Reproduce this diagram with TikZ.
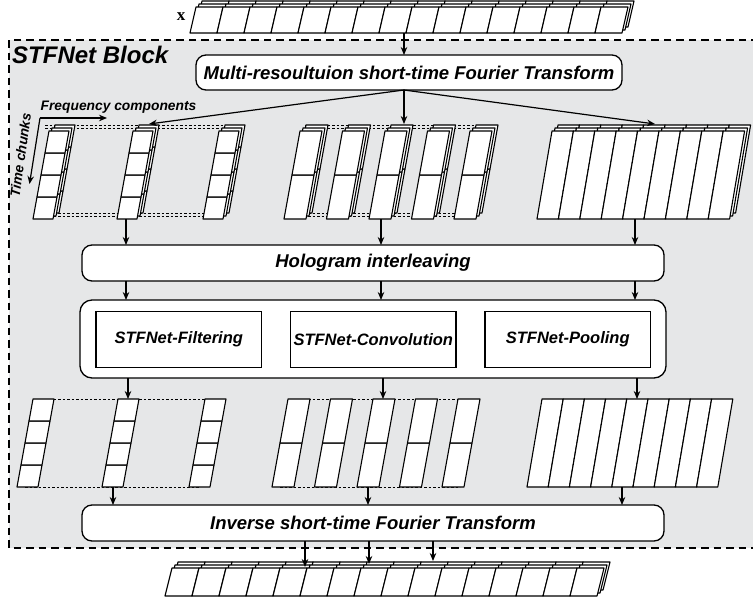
\documentclass[tikz,border=0pt]{standalone}
\usepackage{fontspec}
\setmainfont{Liberation Sans}
\newfontfamily\serifx{Liberation Serif}
\usetikzlibrary{arrows.meta}
\definecolor{bg}{RGB}{230,231,232}
% #1 X (bottom-left), #2 Y (bottom), #3 cell width, #4 cell height, #5 slant per row, #6 nx, #7 ny, #8 style
\newcommand{\cellgrid}[8]{%
  \foreach \ii in {1,...,#6}{%
    \foreach \jj in {1,...,#7}{%
      \draw[#8] ({#1+(\ii-1)*#3+(\jj-1)*#5},{#2-(\jj-1)*#4}) -- ++(#3,0) -- ++(#5,-#4) -- ++(-#3,0) -- cycle;
    }}}
% same plus #8 back layers, #9 layer offset
\newcommand{\layered}[9]{%
  \foreach \kk in {#8,...,0}{\cellgrid{#1+\kk*#9}{#2-\kk*#9}{#3}{#4}{#5}{#6}{#7}{cell}}}
\begin{document}
\begin{tikzpicture}[x=1pt,y=-1pt,
  cell/.style={draw=black,fill=white,line width=1.1pt,line join=round},
  rbox/.style={draw=black,fill=white,line width=1.3pt,rounded corners=10pt,inner sep=0pt,outer sep=0pt,font=\fontsize{18.5}{20}\selectfont\bfseries\itshape},
  ibox/.style={draw=black,fill=white,line width=1.1pt,inner sep=0pt,outer sep=0pt,minimum width=165.5pt,minimum height=56pt,font=\fontsize{16.5}{19}\selectfont\bfseries\itshape},
  arr/.style={line width=1.2pt,-{Stealth[length=8pt,width=6.5pt]}},
  dsh/.style={line width=0.9pt,dash pattern=on 2.5pt off 2pt},
  framebox/.style={fill=bg,draw=black,line width=2.6pt,dash pattern=on 7.5pt off 5pt}]
\useasboundingbox (0,0) rectangle (753,600);

% block frame
\draw[framebox] (9,40) rectangle (757,548);
\node[anchor=base west,font=\fontsize{24}{26}\selectfont\bfseries\itshape,inner sep=0pt] (blocklbl) at (12,63) {STFNet Block};

% input tensor x
\layered{190}{33}{27}{26}{6}{16}{1}{2}{3}
\node[font=\serifx\fontsize{17}{19}\selectfont\bfseries,inner sep=0pt] (xlbl) at (181,17) {x};
\coordinate (xbot) at (404,33);

% boxes
\node[rbox,minimum width=426pt,minimum height=35pt] (mstft) at (409,72.5) {Multi-resoultuion short-time Fourier Transform};
\node[rbox,minimum width=582pt,minimum height=36pt] (holo) at (373,263) {Hologram interleaving};
\node[rbox,rounded corners=12pt,minimum width=586pt,minimum height=78pt] (big) at (373,339) {};
\node[ibox] (filt) at (178.75,339.5) {STFNet-Filtering};
\node[ibox] (conv) at (373.25,339.5) {STFNet-Convolution};
\node[ibox] (pool) at (567.75,339.5) {STFNet-Pooling};
\node[rbox,minimum width=582pt,minimum height=36pt] (inv) at (373,523) {Inverse short-time Fourier Transform};

% axis labels
\node[anchor=base west,font=\fontsize{13.8}{15}\selectfont\bfseries\itshape,inner sep=0pt] (freqlbl) at (40.5,110.5) {Frequency components};
\node[rotate=82,font=\fontsize{13.8}{15}\selectfont\bfseries\itshape,inner sep=0pt] (timelbl) at (20.5,155) {Time chunks};
\coordinate (fcorner) at (40,118);
\coordinate (ftip) at (107,118);
\coordinate (ttip) at (29.5,184);
\draw[arr] (fcorner) -- (ftip);
\draw[arr] (fcorner) -- (ttip);

% upper left group
\draw[dsh] (45,125) -- (230,125);
\draw[dsh] (45,128) -- (230,128);
\draw[dsh] (40,213) -- (215,213);
\draw[dsh] (40,216) -- (215,216);
\layered{33}{219}{20}{22}{4}{1}{4}{2}{3}
\layered{117}{219}{20}{22}{4}{1}{4}{2}{3}
\layered{203}{219}{20}{22}{4}{1}{4}{2}{3}
% upper middle group
\draw[dsh] (305,125) -- (490,125);
\draw[dsh] (305,128) -- (490,128);
\draw[dsh] (290,213) -- (470,213);
\draw[dsh] (290,216) -- (470,216);
\layered{284}{219}{22}{44}{8}{1}{2}{2}{3}
\layered{326.5}{219}{22}{44}{8}{1}{2}{2}{3}
\layered{369}{219}{22}{44}{8}{1}{2}{2}{3}
\layered{411.5}{219}{22}{44}{8}{1}{2}{2}{3}
\layered{454}{219}{22}{44}{8}{1}{2}{2}{3}
% upper right group
\layered{537}{219}{21.4}{88}{15}{9}{1}{2}{3}

% lower left group
\draw[dsh] (40,399) -- (220,399);
\draw[dsh] (25,487) -- (200,487);
\cellgrid{17}{487}{21}{22}{4}{1}{4}{cell}
\cellgrid{102}{487}{21}{22}{4}{1}{4}{cell}
\cellgrid{189}{487}{21}{22}{4}{1}{4}{cell}
% lower middle group
\draw[dsh] (290,399) -- (470,399);
\draw[dsh] (280,487) -- (460,487);
\cellgrid{272}{487}{22}{44}{8}{1}{2}{cell}
\cellgrid{314.5}{487}{22}{44}{8}{1}{2}{cell}
\cellgrid{357}{487}{22}{44}{8}{1}{2}{cell}
\cellgrid{399.5}{487}{22}{44}{8}{1}{2}{cell}
\cellgrid{442}{487}{22}{44}{8}{1}{2}{cell}
% lower right group
\cellgrid{527}{487}{21.2}{88}{15}{9}{1}{cell}

% output tensor
\layered{165}{596}{27}{28}{7}{16}{1}{2}{3}

% connector end points
\coordinate (ultop) at (149,124);
\coordinate (mttop) at (404,124);
\coordinate (rttop) at (655,124);
\coordinate (ulbot) at (126,219);
\coordinate (mtbot) at (381,219);
\coordinate (rtbot) at (635,219);
\coordinate (lltop) at (128,399);
\coordinate (mltop) at (383,399);
\coordinate (rltop) at (637,399);
\coordinate (llbot) at (113,487);
\coordinate (mlbot) at (368,487);
\coordinate (rlbot) at (622,487);
\coordinate (out1) at (305,567);
\coordinate (out2) at (369,564);
\coordinate (out3) at (433,561);

% connectors
\draw[arr] (xbot) -- (mstft.north -| xbot);
\draw[arr] (mstft.south -| xbot) -- (ultop);
\draw[arr] (mstft.south -| xbot) -- (mttop);
\draw[arr] (mstft.south -| xbot) -- (rttop);
\foreach \c in {ulbot,mtbot,rtbot}{
  \draw[arr] (\c) -- (holo.north -| \c);
  \draw[arr] (holo.south -| \c) -- (big.north -| \c);
}
\foreach \c in {lltop,mltop,rltop}{
  \draw[arr] (big.south -| \c) -- (\c);
}
\foreach \c in {llbot,mlbot,rlbot}{
  \draw[arr] (\c) -- (inv.north -| \c);
}
\foreach \c in {out1,out2,out3}{
  \draw[arr] (inv.south -| \c) -- (\c);
}
\end{tikzpicture}
\end{document}
